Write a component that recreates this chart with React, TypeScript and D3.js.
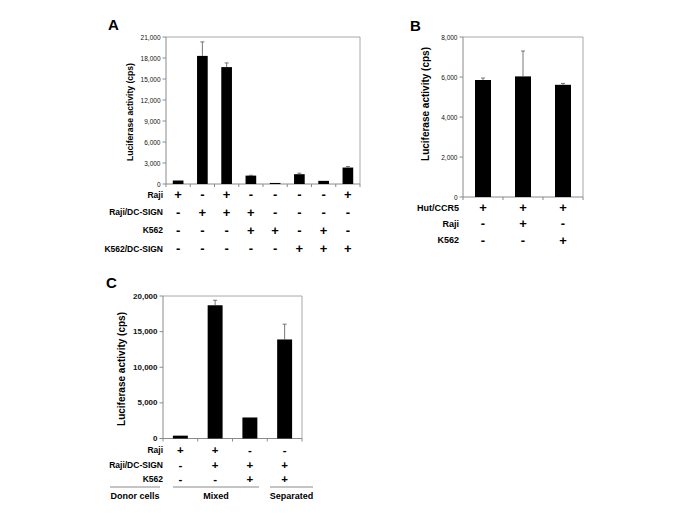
import React from "react";
import * as d3 from "d3";

// ---------- Data ----------
const catsA = ["a1", "a2", "a3", "a4", "a5", "a6", "a7", "a8"];
const valuesA = [500, 18300, 16700, 1200, 150, 1400, 450, 2350];
const errA = [0, 2000, 600, 50, 0, 150, 0, 150];
const ticksA = [0, 3000, 6000, 9000, 12000, 15000, 18000, 21000];
const rowLabelsA = ["Raji", "Raji/DC-SIGN", "K562", "K562/DC-SIGN"];
const rowSignsA = [
  ["+", "-", "+", "-", "-", "-", "-", "+"],
  ["-", "+", "+", "+", "-", "-", "-", "-"],
  ["-", "-", "-", "+", "+", "-", "+", "-"],
  ["-", "-", "-", "-", "-", "+", "+", "+"],
];

const catsB = ["b1", "b2", "b3"];
const valuesB = [5850, 6030, 5610];
const errB = [100, 1270, 70];
const ticksB = [0, 2000, 4000, 6000, 8000];
const rowLabelsB = ["Hut/CCR5", "Raji", "K562"];
const rowSignsB = [
  ["+", "+", "+"],
  ["-", "+", "-"],
  ["-", "-", "+"],
];

const catsC = ["c1", "c2", "c3", "c4"];
const valuesC = [400, 18700, 2950, 13900];
const errC = [0, 700, 0, 2150];
const ticksC = [0, 5000, 10000, 15000, 20000];
const rowLabelsC = ["Raji", "Raji/DC-SIGN", "K562"];
const rowSignsC = [
  ["+", "+", "-", "-"],
  ["-", "+", "+", "+"],
  ["-", "-", "+", "+"],
];
const donorLabel = "Donor cells";
const groupLabelsC = ["Mixed", "Separated"];

const yTitle = "Luciferase activity (cps)";
const FONT = "Arial, 'Liberation Sans', Helvetica, sans-serif";
const fmt = d3.format(",");

type PanelProps = {
  letter: string;
  letterX: number;
  letterY: number;
  left: number;
  right: number;
  top: number;
  bottom: number;
  yMax: number;
  cats: string[];
  values: number[];
  errs: number[];
  ticks: number[];
  tickFont: number;
  tickBold?: boolean;
  titleFont: number;
  titleX: number;
  titleY: number;
  padding: number;
  rowLabels: string[];
  rowSigns: string[][];
  rowYs: number[];
  rowLabelRight: number;
  rowFont: number;
  signFont: number;
};

function Panel(p: PanelProps) {
  const x = d3
    .scaleBand<string>()
    .domain(p.cats)
    .range([p.left, p.right])
    .paddingInner(p.padding)
    .paddingOuter(p.padding / 2);
  const y = d3.scaleLinear().domain([0, p.yMax]).range([p.bottom, p.top]);
  const step = x.step();
  const bounds = d3.range(p.cats.length + 1).map((i) => p.left + i * step);
  const axisCol = "#8a8a8a";
  const frameCol = "#a8a8a8";
  return (
    <g>
      <text x={p.letterX} y={p.letterY} fontSize={15} fontWeight="bold" fontFamily={FONT}>
        {p.letter}
      </text>
      {/* frame */}
      <line x1={p.left} x2={p.right} y1={p.top} y2={p.top} stroke={frameCol} strokeWidth={1} />
      <line x1={p.right} x2={p.right} y1={p.top} y2={p.bottom} stroke={frameCol} strokeWidth={1} />
      {/* y axis */}
      <line x1={p.left} x2={p.left} y1={p.top} y2={p.bottom} stroke={axisCol} strokeWidth={1} />
      {p.ticks.map((t) => (
        <g key={t}>
          <line x1={p.left - 3.5} x2={p.left} y1={y(t)} y2={y(t)} stroke={axisCol} strokeWidth={1} />
          <text
            x={p.left - 5.5}
            y={y(t)}
            textAnchor="end"
            dominantBaseline="central"
            fontSize={p.tickFont}
            fontWeight={p.tickBold ? "bold" : "normal"}
            fontFamily={FONT}
            fill="#111"
          >
            {fmt(t)}
          </text>
        </g>
      ))}
      {/* x axis */}
      <line x1={p.left} x2={p.right} y1={p.bottom} y2={p.bottom} stroke={axisCol} strokeWidth={1} />
      {bounds.map((b, i) => (
        <line key={i} x1={b} x2={b} y1={p.bottom} y2={p.bottom + 3} stroke={axisCol} strokeWidth={1} />
      ))}
      {/* bars */}
      {p.cats.map((c, i) => {
        const x0 = x(c)!;
        const w = x.bandwidth();
        const cx = x0 + w / 2;
        return (
          <g key={c}>
            <rect x={x0} y={y(p.values[i])} width={w} height={p.bottom - y(p.values[i])} fill="#000" />
            {p.errs[i] > 0 && (
              <g stroke="#555" strokeWidth={0.8}>
                <line x1={cx} x2={cx} y1={y(p.values[i])} y2={y(p.values[i] + p.errs[i])} />
                <line x1={cx - 2} x2={cx + 2} y1={y(p.values[i] + p.errs[i])} y2={y(p.values[i] + p.errs[i])} />
              </g>
            )}
          </g>
        );
      })}
      {/* y title */}
      <text
        transform={`translate(${p.titleX},${p.titleY}) rotate(-90)`}
        textAnchor="middle"
        dominantBaseline="central"
        fontSize={p.titleFont}
        fontWeight="bold"
        fontFamily={FONT}
      >
        {yTitle}
      </text>
      {/* table */}
      {p.rowLabels.map((lab, r) => (
        <g key={lab + r}>
          <text
            x={p.rowLabelRight}
            y={p.rowYs[r]}
            textAnchor="end"
            dominantBaseline="central"
            fontSize={p.rowFont}
            fontWeight="bold"
            fontFamily={FONT}
          >
            {lab}
          </text>
          {p.rowSigns[r].map((s, i) => (
            <text
              key={i}
              x={x(p.cats[i])! + x.bandwidth() / 2}
              y={p.rowYs[r]}
              textAnchor="middle"
              dominantBaseline="central"
              fontSize={p.signFont}
              fontWeight="bold"
              fontFamily={FONT}
            >
              {s}
            </text>
          ))}
        </g>
      ))}
    </g>
  );
}

export default function App() {
  return (
    <svg width={685} height={513} style={{ position: "absolute", left: 0, top: 0, background: "#fff" }}>
      <rect x={0} y={0} width={685} height={513} fill="#fff" />
      <Panel
        letter="A"
        letterX={108}
        letterY={30}
        left={166}
        right={360}
        top={37}
        bottom={184}
        yMax={21000}
        cats={catsA}
        values={valuesA}
        errs={errA}
        ticks={ticksA}
        tickFont={6.5}
        titleFont={8.6}
        titleX={130}
        titleY={112}
        padding={0.56}
        rowLabels={rowLabelsA}
        rowSigns={rowSignsA}
        rowYs={[194.5, 212, 230, 248.5]}
        rowLabelRight={163}
        rowFont={8.5}
        signFont={13}
      />
      <Panel
        letter="B"
        letterX={410}
        letterY={31}
        left={463}
        right={583}
        top={37}
        bottom={197}
        yMax={8000}
        cats={catsB}
        values={valuesB}
        errs={errB}
        ticks={ticksB}
        tickFont={6.5}
        titleFont={10}
        titleX={425}
        titleY={104}
        padding={0.6}
        rowLabels={rowLabelsB}
        rowSigns={rowSignsB}
        rowYs={[207.5, 223.5, 240]}
        rowLabelRight={459}
        rowFont={9}
        signFont={13}
      />
      <Panel
        letter="C"
        letterX={106}
        letterY={288}
        left={163}
        right={302}
        top={296}
        bottom={438.5}
        yMax={20000}
        cats={catsC}
        values={valuesC}
        errs={errC}
        ticks={ticksC}
        tickFont={8}
        tickBold
        titleFont={10}
        titleX={121}
        titleY={369}
        padding={0.57}
        rowLabels={rowLabelsC}
        rowSigns={rowSignsC}
        rowYs={[449.5, 464.5, 478.5]}
        rowLabelRight={163}
        rowFont={8.5}
        signFont={11.5}
      />
      {/* Donor cells row for panel C */}
      <g stroke="#8a8a8a" strokeWidth={1}>
        <line x1={110} x2={160} y1={487} y2={487} />
        <line x1={173} x2={259} y1={487} y2={487} />
        <line x1={270} x2={313} y1={487} y2={487} />
      </g>
      <text x={135} y={496} textAnchor="middle" dominantBaseline="central" fontSize={9} fontWeight="bold" fontFamily={FONT}>
        {donorLabel}
      </text>
      <text x={216} y={496} textAnchor="middle" dominantBaseline="central" fontSize={9} fontWeight="bold" fontFamily={FONT}>
        {groupLabelsC[0]}
      </text>
      <text x={291.5} y={496} textAnchor="middle" dominantBaseline="central" fontSize={9} fontWeight="bold" fontFamily={FONT}>
        {groupLabelsC[1]}
      </text>
    </svg>
  );
}
